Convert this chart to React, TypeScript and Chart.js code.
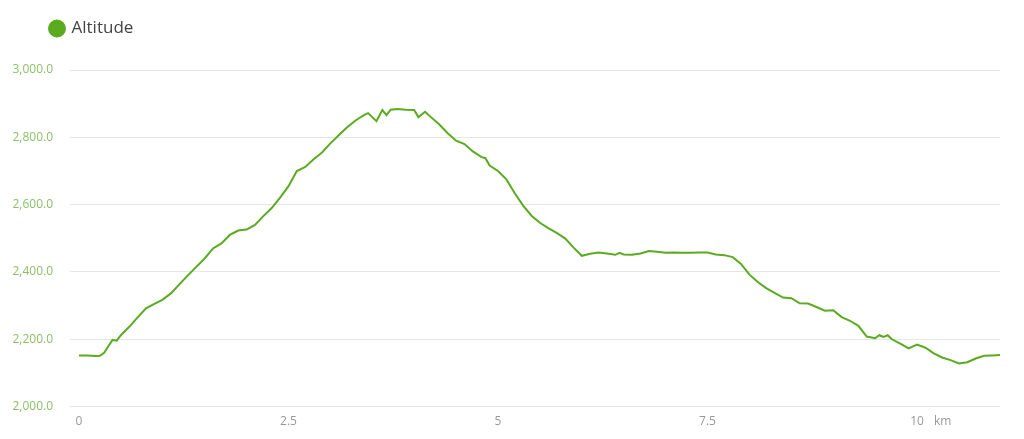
import { useEffect, useRef } from "react";
import { Chart, registerables } from "chart.js";

Chart.register(...registerables);

const distanceKm = [
  0.0, 0.1, 0.2, 0.25, 0.3, 0.4, 0.45, 0.5, 0.6, 0.7, 0.8, 0.9, 1.0, 1.1, 1.2, 1.3, 1.4, 1.5,
  1.6, 1.7, 1.8, 1.9, 2.0, 2.1, 2.2, 2.3, 2.4, 2.5, 2.6, 2.7, 2.8, 2.9, 3.0,
  3.1, 3.2, 3.3, 3.4, 3.45, 3.55, 3.62, 3.67, 3.72, 3.8, 3.9, 4.0, 4.05, 4.13, 4.2, 4.3, 4.4,
  4.5, 4.6, 4.7, 4.8, 4.85, 4.9, 5.0, 5.1, 5.2, 5.3, 5.4, 5.5, 5.6, 5.7, 5.8, 5.9, 6.0,
  6.1, 6.2, 6.3, 6.4, 6.45, 6.5, 6.6, 6.7, 6.8, 6.9, 7.0, 7.1, 7.2, 7.3, 7.4, 7.5, 7.6, 7.7,
  7.8, 7.9, 8.0, 8.1, 8.2, 8.3, 8.4, 8.5, 8.6, 8.7, 8.8, 8.9, 9.0, 9.1, 9.2, 9.3, 9.4, 9.5,
  9.55, 9.6, 9.65, 9.7, 9.8, 9.9, 10.0, 10.1, 10.2, 10.3, 10.4, 10.5, 10.6, 10.7, 10.8, 10.9, 10.99,
];

const altitudeM = [
  2152, 2152, 2150, 2151, 2160, 2198, 2196, 2212, 2237, 2265, 2292, 2305, 2318, 2337, 2364, 2390, 2415, 2440,
  2470, 2485, 2510, 2523, 2526, 2540, 2566, 2590, 2621, 2655, 2700, 2712, 2735, 2755, 2782,
  2806, 2830, 2850, 2866, 2872, 2848, 2881, 2866, 2882, 2884, 2882, 2881, 2860, 2876, 2860, 2838, 2812,
  2790, 2780, 2758, 2742, 2738, 2716, 2700, 2675, 2634, 2597, 2567, 2546, 2530, 2516, 2500, 2473, 2448,
  2454, 2458, 2455, 2451, 2457, 2452, 2451, 2455, 2462, 2460, 2457, 2458, 2457, 2457, 2458, 2458, 2452, 2450,
  2444, 2424, 2392, 2370, 2352, 2338, 2324, 2322, 2307, 2306, 2296, 2285, 2286, 2266, 2255, 2240, 2208, 2203,
  2212, 2207, 2212, 2200, 2187, 2173, 2184, 2175, 2158, 2146, 2138, 2128, 2132, 2143, 2151, 2152, 2153,
];

const xTickValues = [0, 2.5, 5, 7.5, 10];
const yTickValues = [2000, 2200, 2400, 2600, 2800, 3000];
const xUnitLabel = "km";
const seriesLabel = "Altitude";

const GREEN = "#5aab1f";
const FONT = "'Open Sans', 'Noto Sans', sans-serif";

export default function App() {
  const ref = useRef<HTMLCanvasElement>(null);

  useEffect(() => {
    const canvas = ref.current;
    if (!canvas) return;
    const points = distanceKm.map((x, i) => ({ x, y: altitudeM[i] }));

    const legendSpacing = {
      id: "legendSpacing",
      beforeInit(chart: any) {
        const legend = chart.legend;
        if (!legend) return;
        const origFit = legend.fit;
        legend.fit = function () {
          origFit.call(this);
          this.height += 23;
        };
      },
      afterUpdate(chart: any) {
        const legend = chart.legend;
        if (!legend) return;
        legend.left += 41;
        legend.right += 41;
      },
    };

    const unitPlugin = {
      id: "unitLabel",
      afterDraw(chart: any) {
        const xs = chart.scales.x;
        const ctx = chart.ctx;
        const last = xTickValues[xTickValues.length - 1];
        const px = xs.getPixelForValue(last);
        ctx.save();
        ctx.font = `12px ${FONT}`;
        ctx.fillStyle = "#999999";
        ctx.textAlign = "left";
        ctx.textBaseline = "middle";
        const labelTop = xs.top + 8;
        ctx.fillText(xUnitLabel, px + 17, labelTop + 7);
        ctx.restore();
      },
    };

    const chart = new Chart(canvas, {
      type: "line",
      data: {
        datasets: [
          {
            label: seriesLabel,
            data: points,
            borderColor: GREEN,
            backgroundColor: GREEN,
            borderWidth: 2,
            pointRadius: 0,
            pointHoverRadius: 0,
            tension: 0,
            fill: false,
          },
        ],
      },
      options: {
        animation: false,
        responsive: false,
        layout: { padding: { left: 0, right: 24, top: 10, bottom: 2 } },
        plugins: {
          tooltip: { enabled: false },
          legend: {
            display: true,
            position: "top",
            align: "start",
            labels: {
              usePointStyle: true,
              pointStyle: "circle",
              boxHeight: 11.3,
              boxWidth: 12,
              color: "#444444",
              font: { family: FONT, size: 17 },
              padding: 10,
            },
          },
        },
        scales: {
          x: {
            type: "linear",
            min: -0.107,
            max: 10.99,
            afterBuildTicks: (scale: any) => {
              scale.ticks = xTickValues.map((v) => ({ value: v }));
            },
            grid: { display: false, drawTicks: false },
            border: { display: false },
            ticks: {
              color: "#999999",
              font: { family: FONT, size: 12 },
              padding: 8,
              maxRotation: 0,
              callback: (v: any) => String(v),
            },
          },
          y: {
            type: "linear",
            min: 2000,
            max: 3000,
            afterBuildTicks: (scale: any) => {
              scale.ticks = yTickValues.map((v) => ({ value: v }));
            },
            afterFit: (scale: any) => {
              scale.width = 70;
            },
            grid: { color: "#e6e6e6", drawTicks: false, lineWidth: 1 },
            border: { display: false },
            ticks: {
              color: "#8cc068",
              font: { family: FONT, size: 12 },
              padding: 17,
              callback: (v: any) =>
                Number(v).toLocaleString("en-US", { minimumFractionDigits: 1, maximumFractionDigits: 1 }),
            },
          },
        },
      },
      plugins: [legendSpacing, unitPlugin],
    });
    return () => chart.destroy();
  }, []);

  return (
    <div style={{ position: "fixed", left: 0, top: 0, width: 1024, height: 439, background: "#ffffff" }}>
      <canvas ref={ref} width={1024} height={439} style={{ display: "block" }} />
    </div>
  );
}
